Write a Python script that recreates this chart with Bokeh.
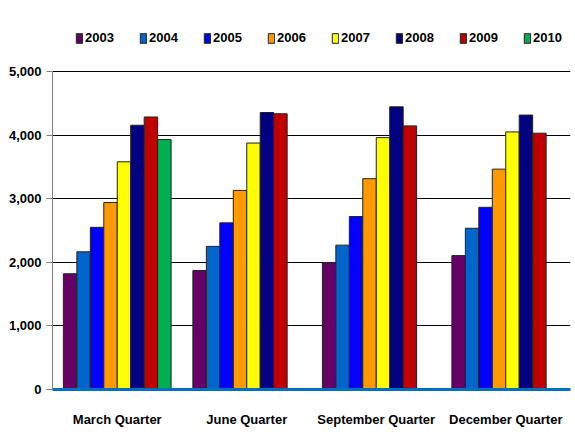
from bokeh.plotting import figure
from bokeh.models import ColumnDataSource, FactorRange, Legend, LegendItem, NumeralTickFormatter, FixedTicker, Range1d
from bokeh.transform import dodge
from bokeh.embed import file_html
from bokeh.resources import INLINE

# Quarterly figures by year
quarters = ["March Quarter", "June Quarter", "September Quarter", "December Quarter"]
years = ["2003", "2004", "2005", "2006", "2007", "2008", "2009", "2010"]
y2003 = [1820, 1870, 1995, 2105]
y2004 = [2165, 2250, 2270, 2535]
y2005 = [2550, 2620, 2720, 2865]
y2006 = [2940, 3130, 3315, 3465]
y2007 = [3580, 3875, 3960, 4050]
y2008 = [4155, 4355, 4445, 4315]
y2009 = [4285, 4335, 4145, 4030]
y2010 = [3930, None, None, None]
y_ticks = [0, 1000, 2000, 3000, 4000, 5000]

series = [y2003, y2004, y2005, y2006, y2007, y2008, y2009, y2010]
colors = ["#660066", "#0066CC", "#0000FF", "#FF9900", "#FFFF00", "#000080", "#C00000", "#00B050"]

FONT = "Liberation Sans"

# layout: the frame reaches up to hold the legend; the value axis stops at 5,000
W, H = 575, 437
TOP, BOTTOM, LEFT, RIGHT = 20, 48, 52, 5
AXIS_TOP_PX = 71
frame_h = H - TOP - BOTTOM
y_max = y_ticks[-1]
y_end = y_max * frame_h / (H - BOTTOM - AXIS_TOP_PX)

p = figure(
    width=W, height=H,
    x_range=FactorRange(*quarters, range_padding=0),
    y_range=Range1d(0, y_end),
    output_backend="svg", toolbar_location=None,
    min_border_left=LEFT, min_border_right=RIGHT, min_border_top=TOP, min_border_bottom=BOTTOM,
)
p.outline_line_color = None
p.background_fill_color = "white"
p.border_fill_color = "white"

bar_w = 0.104
items = []
for i, (yr, vals, col) in enumerate(zip(years, series, colors)):
    xs = [q for q, v in zip(quarters, vals) if v is not None]
    tops = [v for v in vals if v is not None]
    src = ColumnDataSource(dict(x=xs, top=tops))
    r = p.vbar(x=dodge("x", (i - 3.5) * bar_w, range=p.x_range), top="top", width=bar_w,
               source=src, fill_color=col, line_color="#222222", line_width=1)
    items.append(LegendItem(label=yr, renderers=[r]))

legend = Legend(
    items=items, orientation="horizontal", location=(23, frame_h - 13 - 12),
    glyph_width=8, glyph_height=12, label_standoff=2, label_width=40, label_height=12,
    spacing=14, padding=0, margin=0,
    border_line_color=None, background_fill_alpha=0,
    label_text_font=FONT, label_text_font_style="bold", label_text_font_size="13px",
    label_text_color="black",
)
p.add_layout(legend, "center")

# y axis
p.yaxis.ticker = FixedTicker(ticks=y_ticks)
p.yaxis.bounds = (0, y_max)
p.yaxis.formatter = NumeralTickFormatter(format="0,0")
p.yaxis.axis_line_color = "#808080"
p.yaxis.major_tick_line_color = "#808080"
p.yaxis.major_tick_out = 6
p.yaxis.major_tick_in = 0
p.yaxis.minor_tick_line_color = None
p.yaxis.major_label_standoff = 5
p.yaxis.major_label_text_font = FONT
p.yaxis.major_label_text_font_style = "bold"
p.yaxis.major_label_text_font_size = "13px"
p.yaxis.major_label_text_color = "black"

# x axis
p.xaxis.axis_line_color = "#0070C0"
p.xaxis.axis_line_width = 3
p.xaxis.major_tick_line_color = None
p.xaxis.minor_tick_line_color = None
p.xaxis.major_label_standoff = 16
p.xaxis.major_label_text_font = FONT
p.xaxis.major_label_text_font_style = "bold"
p.xaxis.major_label_text_font_size = "13px"
p.xaxis.major_label_text_color = "black"

p.xgrid.grid_line_color = None
p.ygrid.grid_line_color = "black"
p.ygrid.grid_line_width = 1
p.ygrid.ticker = FixedTicker(ticks=y_ticks[1:])

open("out.html", "w").write(file_html(p, INLINE))
